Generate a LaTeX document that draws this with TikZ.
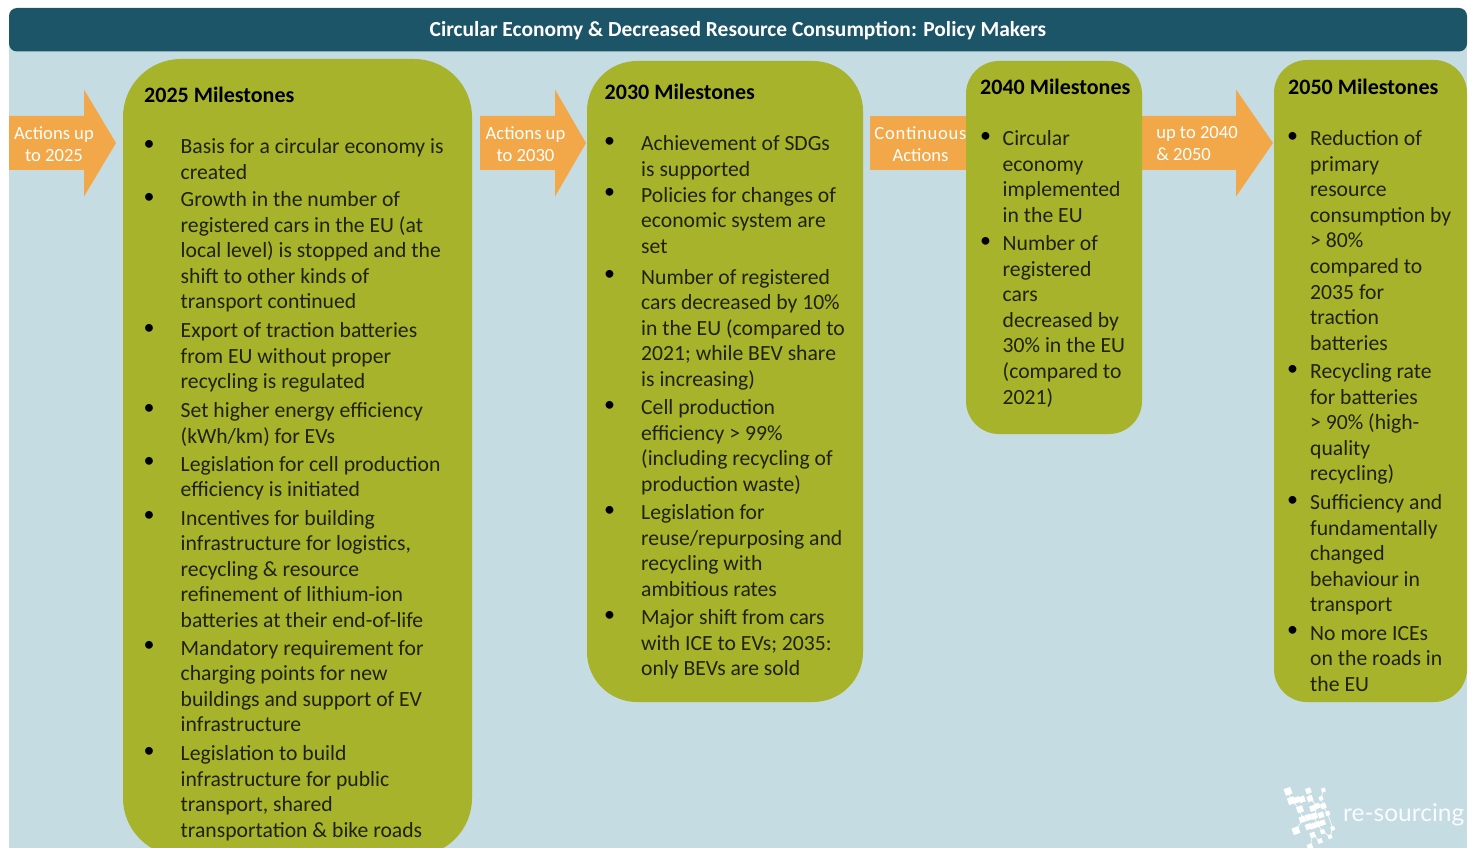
\documentclass[tikz,border=0pt]{standalone}
\usepackage{fontspec}
\setmainfont{Carlito}
\newfontfamily\logofont{Lato}
\definecolor{hdr}{HTML}{1D5568}
\definecolor{bgc}{HTML}{C5DCE3}
\definecolor{grn}{HTML}{A7B32A}
\definecolor{org}{HTML}{F2A848}
\definecolor{txt}{HTML}{1F2208}
\tikzset{
 x=1pt,y=-1pt,
 mbox/.style={fill=grn},
 arw/.style={fill=org},
 head/.style={anchor=base west,inner sep=0pt,font=\fontsize{22}{25.6}\selectfont\bfseries,text=black},
 body/.style={anchor=base west,inner sep=0pt,text=txt},
 bul/.style={anchor=center,inner sep=0pt,font=\fontsize{22}{25.6}\selectfont,text=black},
 alab/.style={anchor=center,inner sep=0pt,align=center,text=white,font=\fontsize{18.6}{22}\selectfont},
 lg/.style={fill=white},
}
\newcommand{\ms}[6]{% name, bullet x, text x, first baseline, width, text
 \node[bul] (#1b) at (#2,#4-8) {•};
 \node[body] (#1) at (#3,#4+0.5) {\parbox[t]{#5pt}{\fontsize{21.65}{25.6}\selectfont\raggedright #6}};
}
\begin{document}
\begin{tikzpicture}
\useasboundingbox (0,0) rectangle (1473,848);
\begin{scope}
\clip (0,0) rectangle (1473,848);
\fill[bgc] (9,40) rectangle (1467,848);
\fill[hdr,rounded corners=8pt] (9,8) rectangle (1467,51.5);
% arrows
\fill[arw] (9,116)--(84,116)--(84,89.5)--(116,143)--(84,196.5)--(84,170)--(9,170)--cycle;
\fill[arw] (480,116)--(555,116)--(555,89.5)--(586,143)--(555,196.5)--(555,170)--(480,170)--cycle;
\fill[arw] (870,116) rectangle (970,170);
\fill[arw] (1138,116)--(1236,116)--(1236,89.5)--(1273,143)--(1236,196.5)--(1236,170)--(1138,170)--cycle;
% boxes
\fill[mbox,rounded corners=58pt] (123,59) rectangle (472,856);
\fill[mbox,rounded corners=50pt] (587,61) rectangle (863,702);
\fill[mbox,rounded corners=33pt] (966,61) rectangle (1142,434);
\fill[mbox,rounded corners=33pt] (1274,60) rectangle (1467,702);
\end{scope}
\node[anchor=center,inner sep=0pt,text=white,font=\fontsize{21.45}{25}\selectfont\bfseries] (title) at (738,30.5) {Circular Economy \& Decreased Resource Consumption: Policy Makers};
% arrow labels
\node[alab] (a1) at (54,144) {Actions up\\to 2025};
\node[alab] (a2) at (525.5,144) {Actions up\\to 2030};
\node[alab] (a3) at (920.5,144) {{\addfontfeature{LetterSpace=4}Continuous}\\Actions};
\node[alab,align=left] (a4) at (1197,144) {up to 2040\\\& 2050};
% 2025
\node[head] (h25) at (144,102.5) {2025 Milestones};
\ms{p1}{149}{180.5}{153}{285}{Basis for a circular economy is\\created}
\ms{p2}{149}{180.5}{206}{285}{Growth in the number of\\registered cars in the EU (at\\local level) is stopped and the\\shift to other kinds of\\transport continued}
\ms{p3}{149}{180.5}{337}{285}{Export of traction batteries\\from EU without proper\\recycling is regulated}
\ms{p4}{149}{180.5}{417}{285}{Set higher energy efficiency\\(kWh/km) for EVs}
\ms{p5}{149}{180.5}{470.5}{285}{Legislation for cell production\\efficiency is initiated}
\ms{p6}{149}{180.5}{524.5}{285}{Incentives for building\\infrastructure for logistics,\\recycling \& resource\\refinement of lithium-ion\\batteries at their end-of-life}
\ms{p7}{149}{180.5}{654.5}{285}{Mandatory requirement for\\charging points for new\\buildings and support of EV\\infrastructure}
\ms{p8}{149}{180.5}{760}{285}{Legislation to build\\infrastructure for public\\transport, shared\\transportation \& bike roads}
% 2030
\node[head] (h30) at (604.5,99.5) {2030 Milestones};
\ms{q1}{609.5}{641}{150}{220}{Achievement of SDGs\\is supported}
\ms{q2}{609.5}{641}{201.5}{220}{Policies for changes of\\economic system are\\set}
\ms{q3}{609.5}{641}{283.5}{220}{Number of registered\\cars decreased by 10\%\\in the EU (compared to\\2021; while BEV share\\is increasing)}
\ms{q4}{609.5}{641}{414}{220}{Cell production\\efficiency > 99\%\\(including recycling of\\production waste)}
\ms{q5}{609.5}{641}{519}{220}{Legislation for\\reuse/repurposing and\\recycling with\\ambitious rates}
\ms{q6}{609.5}{641}{624}{220}{Major shift from cars\\with ICE to EVs; 2035:\\only BEVs are sold}
% 2040
\node[head] (h40) at (980,95) {2040 Milestones};
\ms{r1}{985.5}{1002.5}{145}{135}{Circular\\economy\\implemented\\in the EU}
\ms{r2}{985.5}{1002.5}{250}{135}{Number of\\registered\\cars\\decreased by\\30\% in the EU\\(compared to\\2021)}
% 2050
\node[head] (h50) at (1288,95) {2050 Milestones};
\ms{s1}{1292.5}{1310}{145}{150}{Reduction of\\primary\\resource\\consumption by\\> 80\%\\compared to\\2035 for\\traction\\batteries}
\ms{s2}{1292.5}{1310}{378}{150}{Recycling rate\\for batteries\\> 90\% (high-\\quality\\recycling)}
\ms{s3}{1292.5}{1310}{509}{150}{Sufficiency and\\fundamentally\\changed\\behaviour in\\transport}
\ms{s4}{1292.5}{1310}{639.5}{150}{No more ICEs\\on the roads in\\the EU}
% logo
\begin{scope}
\clip (1270,780) rectangle (1350,848);
\begin{scope}[shift={(1280,780)},x=0.3333pt,y=-0.3333pt]
\draw[white,line width=0.6pt] (24,34)--(34,62)--(60,88)--(67,118)--(48,152);
\draw[white,line width=0.6pt] (85,32)--(90,56)--(112,78)--(103,108)--(112,133)--(128,155)--(150,170)--(158,145)--(143,100)--(130,78);
\draw[white,line width=0.6pt] (130,30)--(123,55)--(130,78);
\draw[white,line width=0.6pt] (98,165)--(120,183);
\draw[white,line width=0.6pt] (98,165)--(90,200);
\foreach \a/\b/\s in {24/34/21,34/62/21,50/60/18,66/58/18,85/32/16,90/56/17,130/30/12,123/55/12,98/85/17,112/78/16,130/78/16,60/88/19,143/100/13,67/118/18,85/112/18,103/108/18,123/105/17,48/152/21,85/140/17,98/138/17,112/133/17,128/128/16,158/145/12,128/155/13,150/170/12,98/165/16,120/183/14,90/200/16}
 \fill[lg,rotate around={20:(\a,\b)}] (\a-\s/2,\b-\s/2) rectangle (\a+\s/2,\b+\s/2);
\end{scope}
\end{scope}
\node[anchor=base west,inner sep=0pt,text=white,opacity=0.9,font=\logofont\fontsize{24.5}{25}\selectfont] (logo) at (1343,821) {re-sourcing};
\end{tikzpicture}
\end{document}
